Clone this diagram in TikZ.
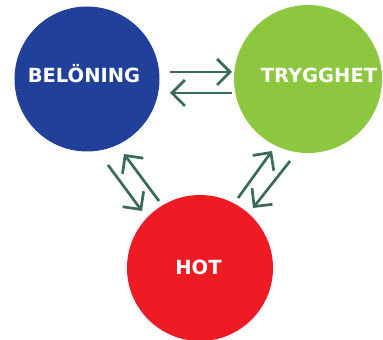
\documentclass[tikz,border=0pt]{standalone}
\usepackage{fontspec}
\setmainfont{DejaVu Sans}
\usetikzlibrary{arrows.meta}
\definecolor{cblue}{HTML}{21409A}
\definecolor{cgreen}{HTML}{8DC63F}
\definecolor{cred}{HTML}{ED1C24}
\definecolor{carrow}{HTML}{3A6A58}
\begin{document}
\begin{tikzpicture}[x=1pt,y=1pt,
  ball/.style={circle,inner sep=0pt},
  lbl/.style={anchor=base,inner sep=0pt,text=white,font=\bfseries\fontsize{19.5}{20}\selectfont},
  flow/.style={draw=carrow,line width=2.7pt,-{Straight Barb[length=13pt,width=26pt]}}]
\useasboundingbox (0,0) rectangle (383,340);
\begin{scope}
\clip (0,0) rectangle (383,340);
\node[ball,fill=cblue,minimum size=145pt] (bel) at (87,261) {};
\node[ball,fill=cgreen,minimum size=148pt] (try) at (308,261) {};
\node[ball,fill=cred,minimum size=146pt] (hot) at (200,72) {};
\end{scope}
\node[lbl] (belt) at (84,257) {BELÖNING};
\node[lbl] (tryt) at (319,257) {TRYGGHET};
\node[lbl] (hott) at (198.5,65) {HOT};
\coordinate (a1) at (170,268); \coordinate (b1) at (232,268);
\coordinate (a2) at (232,247); \coordinate (b2) at (170,247);
\coordinate (a3) at (159,139); \coordinate (b3) at (124,186);
\coordinate (a4) at (108,175); \coordinate (b4) at (142,129);
\coordinate (a5) at (238,142); \coordinate (b5) at (272,189);
\coordinate (a6) at (290,179); \coordinate (b6) at (253,132);
\draw[flow] (a1) -- (b1);
\draw[flow] (a2) -- (b2);
\draw[flow] (a3) -- (b3);
\draw[flow] (a4) -- (b4);
\draw[flow] (a5) -- (b5);
\draw[flow] (a6) -- (b6);
\end{tikzpicture}
\end{document}
